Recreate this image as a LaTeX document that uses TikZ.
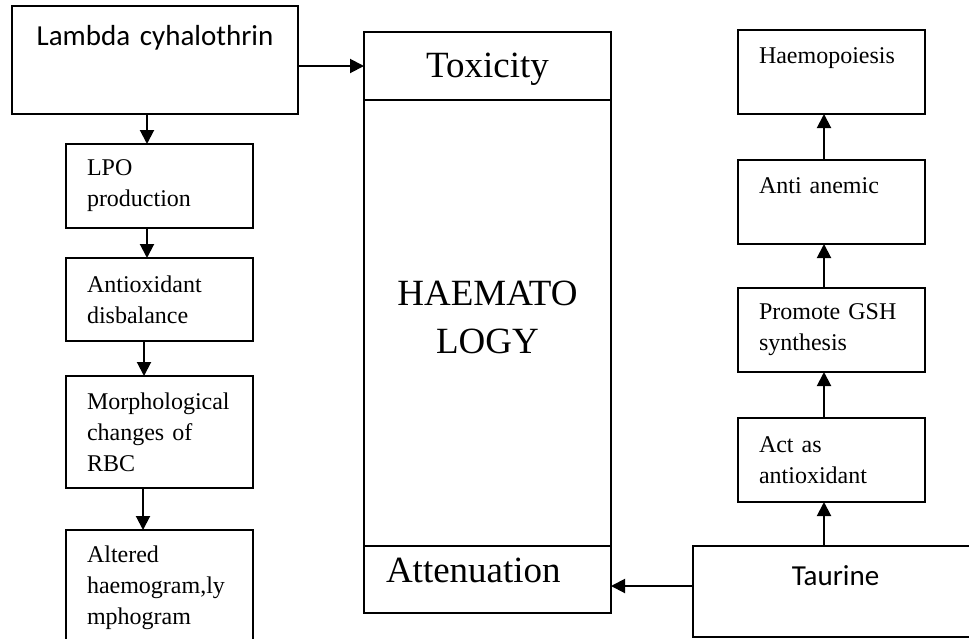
\documentclass[tikz,border=0pt]{standalone}
\usepackage{fontspec}
\setmainfont{Liberation Serif}
\newfontfamily\calibri{Carlito}
\usetikzlibrary{arrows.meta, positioning, calc}

\tikzset{
    boxbase/.style={draw, line width=1.5pt, outer sep=0pt, anchor=north west, inner ysep=0pt, inner xsep=0pt},
    sidebox/.style={boxbase, minimum width=187pt, minimum height=84pt, inner xsep=21pt,
        text width=145pt, align=left, font=\fontsize{24}{31}\selectfont},
    onebox/.style={sidebox, text height=16pt, text depth=34pt},
    sansbox/.style={boxbase, align=center, font=\calibri\fontsize{29}{35}\selectfont},
    midbox/.style={boxbase, minimum width=247pt, font=\fontsize{37}{48}\selectfont},
    flow/.style={->, line width=2pt}
}

\begin{document}
\begin{tikzpicture}[x=1pt, y=-1pt, >={Triangle[length=14pt, width=14pt]}]
            \useasboundingbox (0,0) rectangle (969,638);

            % Central column
            \node[midbox, minimum height=68pt, text width=247pt, align=center,
                text height=25pt, text depth=3pt] (tox) at (364,32) {Toxicity};
            \node[midbox, minimum height=446pt, text width=247pt, align=center,
                text height=25pt, text depth=61pt] (haem) at (364,100) {HAEMATO\\LOGY};
            \node[midbox, minimum height=67pt, inner xsep=22pt, text width=203pt, align=left,
                text height=25pt, text depth=20pt] (atten) at (364,546) {Attenuation};

            % Left chain
            \node[sansbox, minimum width=286pt, minimum height=108pt, text width=286pt,
                text height=19pt, text depth=49pt] (lam) at (12,6) {Lambda cyhalothrin};
            \node[sidebox] (lpo) at (66,144) {LPO\\production};
            \node[sidebox, minimum height=83pt] (antiox) at (66,258) {Antioxidant\\disbalance};
            \node[sidebox, minimum height=112pt] (morph) at (66,376) {Morphological\\changes of\\RBC};
            \node[sidebox, minimum height=115pt] (alter) at (66,530) {Altered\\haemogram,ly\\mphogram};

            % Right chain
            \node[onebox] (haemo) at (738,30) {Haemopoiesis};
            \node[onebox] (anem) at (738,160) {Anti anemic};
            \node[sidebox] (gsh) at (738,288) {Promote GSH\\synthesis};
            \node[sidebox] (actox) at (738,418) {Act as\\antioxidant};
            \node[sansbox, minimum width=285pt, minimum height=91pt, text width=285pt,
                text height=19pt, text depth=32pt] (taur) at (693,546) {Taurine};

            % Arrows
            \draw[flow] (lam.east |- tox.west) -- (tox.west);
            \draw[flow] ([xshift=-12.5pt]lpo.north |- lam.south) -- ([xshift=-12.5pt]lpo.north);
            \draw[flow] ([xshift=-12.5pt]lpo.south) -- ([xshift=-12.5pt]antiox.north);
            \draw[flow] ([xshift=-15.5pt]antiox.south) -- ([xshift=-15.5pt]morph.north);
            \draw[flow] ([xshift=-16.5pt]morph.south) -- ([xshift=-16.5pt]alter.north);
            \draw[flow] ([xshift=-7.5pt]actox.south |- taur.north) -- ([xshift=-7.5pt]actox.south);
            \draw[flow] ([xshift=-7.5pt]actox.north) -- ([xshift=-7.5pt]gsh.south);
            \draw[flow] ([xshift=-7.5pt]gsh.north) -- ([xshift=-7.5pt]anem.south);
            \draw[flow] ([xshift=-7.5pt]anem.north) -- ([xshift=-7.5pt]haemo.south);
            \draw[flow] ([yshift=-6.5pt]taur.west |- atten.east) -- ([yshift=-6.5pt]atten.east);
        \end{tikzpicture}
\end{document}
